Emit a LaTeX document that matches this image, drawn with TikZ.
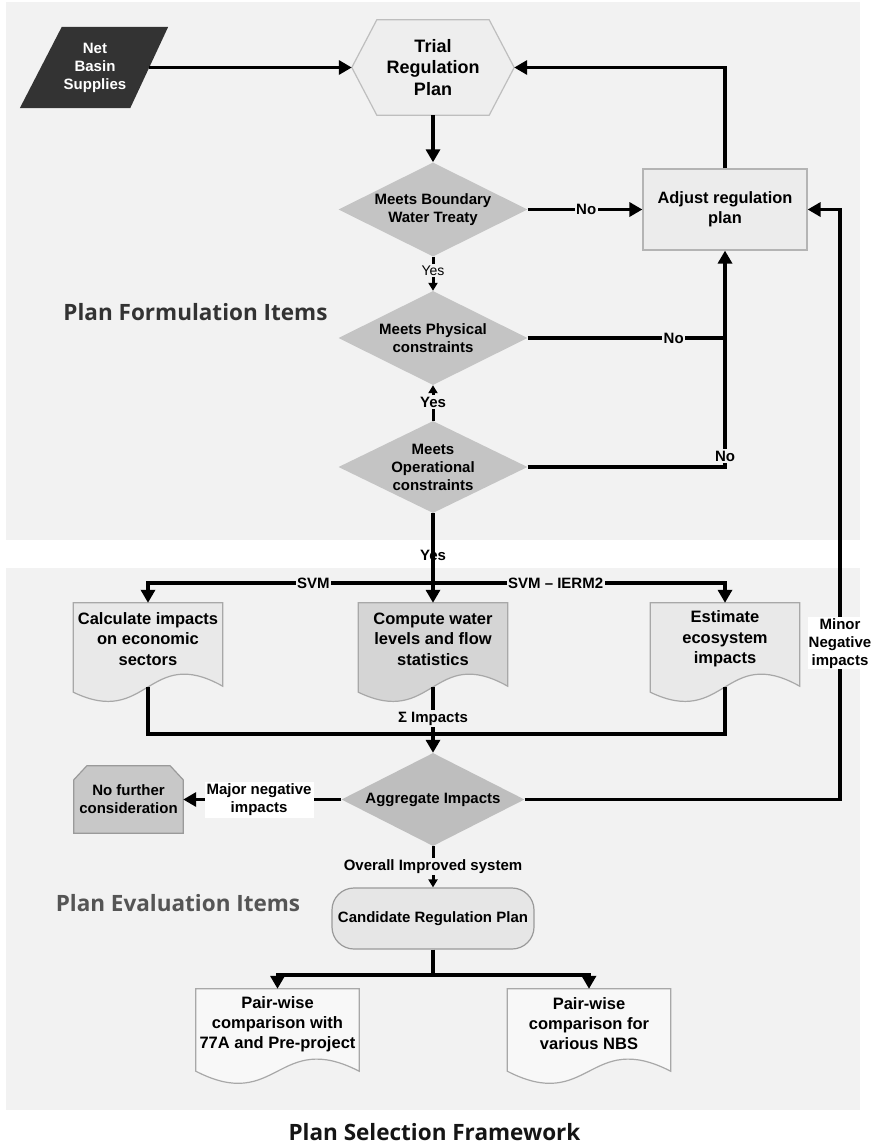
\documentclass[tikz,border=0pt]{standalone}
\usepackage{fontspec}
\setmainfont{Liberation Sans}
\newfontfamily\titlefont{Open Sans}
\usetikzlibrary{shapes.geometric,arrows.meta,calc}

\definecolor{panelgray}{HTML}{F2F2F2}
\definecolor{nbsdark}{HTML}{333333}
\definecolor{hexfill}{HTML}{EEEEEE}
\definecolor{hexline}{HTML}{BEBEBE}
\definecolor{decfill}{HTML}{C4C4C4}
\definecolor{aggfill}{HTML}{BEBEBE}
\definecolor{boxfill}{HTML}{ECECEC}
\definecolor{boxline}{HTML}{B4B4B4}
\definecolor{docfill}{HTML}{E9E9E9}
\definecolor{docdark}{HTML}{D5D5D5}
\definecolor{docline}{HTML}{A8A8A8}
\definecolor{stopfill}{HTML}{C8C8C8}
\definecolor{stopline}{HTML}{9A9A9A}
\definecolor{candfill}{HTML}{E6E6E6}
\definecolor{pwfill}{HTML}{F8F8F8}
\definecolor{titleA}{HTML}{333333}
\definecolor{titleB}{HTML}{555555}
\definecolor{titleC}{HTML}{151515}

\pgfdeclarelayer{panel}
\pgfdeclarelayer{shapes}
\pgfsetlayers{panel,shapes,main}

\newcommand\fs[2]{\fontsize{#1}{#2}\selectfont}
% document outline with a wavy lower edge below node #1
\newcommand\docshape[4]{%
  \path[#4] (#1.north west) -- (#1.north east) -- ($(#1.south east)+(0,#2)$)
    .. controls ($(#1.south)+(0,#2-42)$) and ($(#1.south)+(0,#2+42)$) ..
    ($(#1.south west)+(0,#2+#3)$) -- cycle;}

\begin{document}
\begin{tikzpicture}[x=1pt,y=-1pt,
  every node/.style={inner sep=0pt, align=center, font=\bfseries\fs{15}{18}},
  link/.style={line width=3.5pt, draw=black},
  arrow/.style={link, -{Triangle[length=13pt,width=14pt]}},
  small arrow/.style={line width=3pt, draw=black, -{Triangle[length=8pt,width=9pt]}},
  decision/.style={shape=diamond, aspect=2, fill=decfill, minimum width=189, minimum height=94},
  doctext/.style={rectangle, minimum width=149, minimum height=72, font=\bfseries\fs{16.5}{20.5}},
  pwtext/.style={rectangle, minimum width=163, minimum height=70, font=\bfseries\fs{16.5}{20}},
  onpanel/.style={fill=panelgray, inner sep=1.5pt},
  onwhite/.style={fill=white, inner sep=2pt},
  title/.style={font=\titlefont\bfseries\fs{22.5}{27}},
]
\useasboundingbox (0,0) rectangle (875,1144);

% ---------- panels ----------
\begin{pgfonlayer}{panel}
  \fill[white] (0,0) rectangle (875,1144);
  \fill[panelgray] (6,2) rectangle (860,540);
  \fill[panelgray] (6,568) rectangle (860,1110);
\end{pgfonlayer}

% ---------- plan formulation ----------
\node[rectangle, minimum width=108, minimum height=81, text=white] (nbs) at (95,67.5) {Net\\Basin\\Supplies};
\node[rectangle, minimum width=162, minimum height=95, font=\bfseries\fs{18}{21.5}] (trial) at (433,67.5) {Trial\\Regulation\\Plan};
\node[decision] (d1) at (433,209.5) {Meets Boundary\\Water Treaty};
\node[rectangle, minimum width=164, minimum height=81, fill=boxfill, draw=boxline, line width=1.2pt, font=\bfseries\fs{16.4}{20}] (adjust) at (725,209.5) {Adjust regulation\\plan};
\node[decision] (d2) at (433,338) {Meets Physical\\constraints};
\node[decision, minimum height=92] (d3) at (433,467) {Meets\\Operational\\constraints};

\node[title, text=titleA] (formulation) at (195.5,312) {Plan Formulation Items};

\begin{pgfonlayer}{shapes}
  \path[fill=nbsdark] ($(nbs.north west)+(21,0)$) -- ($(nbs.north east)+(19,0)$)
    -- ($(nbs.south east)+(-19,0)$) -- ($(nbs.south west)+(-21,0)$) -- cycle;
  \path[fill=hexfill, draw=hexline, line width=1.2pt] (trial.west) -- ($(trial.north west)+(25,0)$)
    -- ($(trial.north east)+(-25,0)$) -- (trial.east) -- ($(trial.south east)+(-25,0)$)
    -- ($(trial.south west)+(25,0)$) -- cycle;
\end{pgfonlayer}

\draw[arrow] (nbs.east) -- (trial.west);
\draw[arrow] (trial.south) -- (d1.north);
\draw[arrow] (adjust.north) |- (trial.east);
\draw[arrow] (d1.east) -- node[pos=0.51, onpanel] {No} (adjust.west);
\draw[small arrow] (d1.south) -- node[pos=0.41, onpanel, font=\mdseries\fs{14}{16}] {Yes} (d2.north);
\draw[link] (d2.east) -- node[pos=0.74, onpanel] {No} (d2.east -| adjust.south);
\draw[arrow] (d3.east) -| node[pos=0.525, onpanel] {No} (adjust.south);
\draw[small arrow] (d3.north) -- node[pos=0.53, onpanel] {Yes} (d2.south);

% ---------- plan evaluation ----------
\coordinate (split) at (433,583);
\node[doctext] (econ) at (148,639) {Calculate impacts\\on economic\\sectors};
\node[doctext] (water) at (433,639) {Compute water\\levels and flow\\statistics};
\node[doctext] (eco) at (725,639) {Estimate\\ecosystem\\impacts};
\begin{pgfonlayer}{shapes}
  \docshape{econ}{11}{6}{fill=docfill, draw=docline, line width=1.2pt}
  \docshape{water}{11}{6}{fill=docdark, draw=docline, line width=1.2pt}
  \docshape{eco}{11}{6}{fill=docfill, draw=docline, line width=1.2pt}
\end{pgfonlayer}
\coordinate (econ-b) at ($(econ.south)+(0,12)$);
\coordinate (water-b) at ($(water.south)+(0,12)$);
\coordinate (eco-b) at ($(eco.south)+(0,12)$);
\coordinate (collect) at (433,734);

\draw[link] (d3.south) -- node[pos=0.61] {Yes} (split);
\draw[arrow] (split) -- (water.north);
\draw[arrow] (split) -| node[pos=0.21, onpanel] {SVM} (econ.north);
\draw[arrow] (split) -| node[pos=0.21, onpanel] {SVM -- IERM2} (eco.north);
\draw[link] (econ-b) |- (collect) -| (eco-b);

\node[decision, fill=aggfill, minimum width=183, minimum height=93] (agg) at (433,799.5) {Aggregate Impacts};
\draw[arrow] (water-b) -- node[pos=0.48, onpanel] {Σ Impacts} (agg.north);

\node[rectangle, minimum width=109, minimum height=67] (nfc) at (128.5,799.5) {No further\\consideration};
\begin{pgfonlayer}{shapes}
  \path[fill=stopfill, draw=stopline, line width=1.2pt] (nfc.south west) -- ($(nfc.north west)+(0,14)$)
    -- ($(nfc.north west)+(13,0)$) -- ($(nfc.north east)+(-13,0)$) -- ($(nfc.north east)+(0,14)$)
    -- (nfc.south east) -- cycle;
\end{pgfonlayer}
\draw[arrow] (agg.west) -- node[pos=0.52, onwhite] {Major negative\\impacts} (nfc.east);

\coordinate (outer) at (840,500);
\draw[arrow] (agg.east) -| node[pos=0.761, onwhite, inner sep=1pt] {Minor\\Negative\\impacts} (outer) |- (adjust.east);

\node[rectangle, rounded corners=22pt, minimum width=202, minimum height=61, fill=candfill, draw=stopline, line width=1.2pt] (cand) at (433,918.5) {Candidate Regulation Plan};
\draw[small arrow] (agg.south) -- node[pos=0.5, onpanel] {Overall Improved system} (cand.north);

\node[title, text=titleB] (evaluation) at (178,903) {Plan Evaluation Items};

% ---------- plan selection ----------
\coordinate (split2) at (433,975);
\node[pwtext] (pw1) at (277.5,1024) {Pair-wise\\comparison with\\77A and Pre-project};
\node[pwtext] (pw2) at (589,1024) {Pair-wise\\comparison for\\various NBS};
\begin{pgfonlayer}{shapes}
  \docshape{pw1}{12}{0}{fill=pwfill, draw=docline, line width=1.2pt}
  \docshape{pw2}{12}{0}{fill=pwfill, draw=docline, line width=1.2pt}
\end{pgfonlayer}
\draw[link] (cand.south) -- (split2);
\draw[arrow] (split2) -| (pw1.north);
\draw[arrow] (split2) -| (pw2.north);

\node[title, text=titleC] (framework) at (434.5,1132) {Plan Selection Framework};
\end{tikzpicture}
\end{document}
